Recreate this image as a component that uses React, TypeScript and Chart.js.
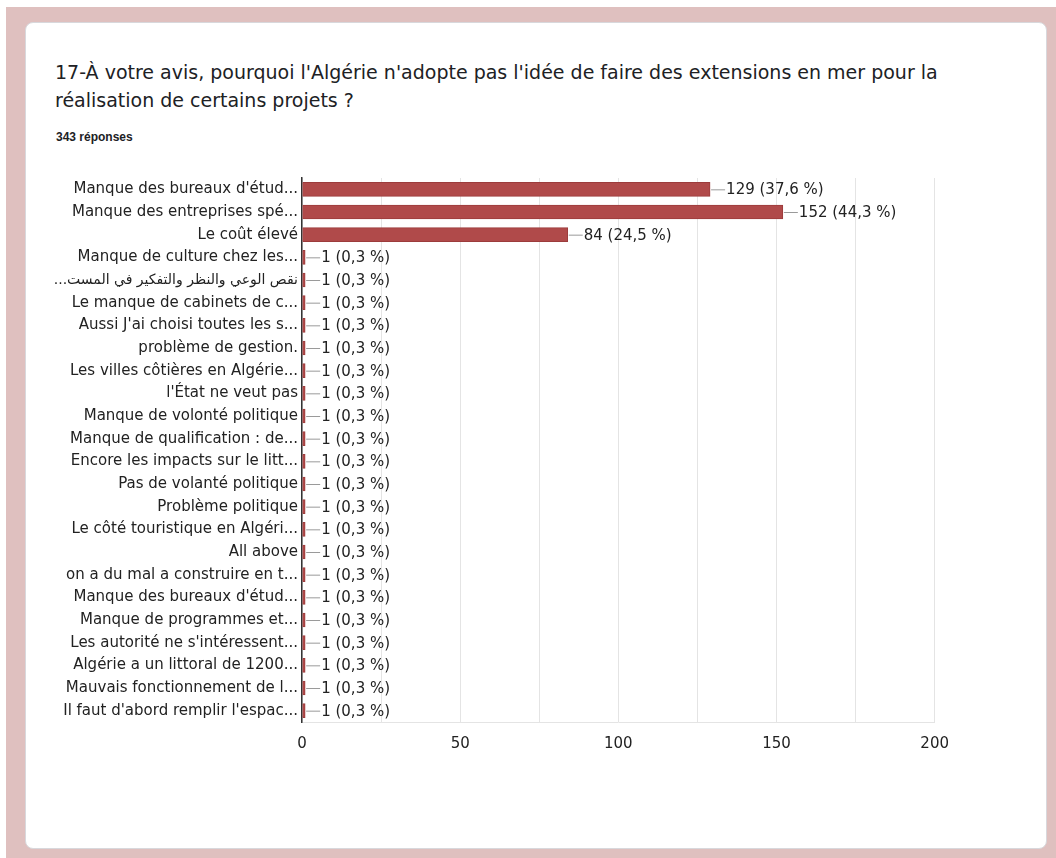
import React, { useEffect, useRef } from "react";
import { Chart, registerables } from "chart.js";

Chart.register(...registerables);

const TITLE_LINE_1 =
  "17-À votre avis, pourquoi l'Algérie n'adopte pas l'idée de faire des extensions en mer pour la";
const TITLE_LINE_2 = "réalisation de certains projets ?";
const RESPONSES = "343 réponses";
const TOTAL = 343;

const categories = [
  "Manque des bureaux d'étud...",
  "Manque des entreprises spé...",
  "Le coût élevé",
  "Manque de culture chez les...",
  "...نقص الوعي والنظر والتفكير في المست",
  "Le manque de cabinets de c...",
  "Aussi J'ai choisi toutes les s...",
  "problème de gestion.",
  "Les villes côtières en Algérie...",
  "l'État ne veut pas",
  "Manque de volonté politique",
  "Manque de qualification : de...",
  "Encore les impacts sur le litt...",
  "Pas de volanté politique",
  "Problème politique",
  "Le côté touristique en Algéri...",
  "All above",
  "on a du mal a construire en t...",
  "Manque des bureaux d'étud...",
  "Manque de programmes et...",
  "Les autorité ne s'intéressent...",
  "Algérie a un littoral de 1200...",
  "Mauvais fonctionnement de l...",
  "Il faut d'abord remplir l'espac...",
];

const counts = [129, 152, 84, 1, 1, 1, 1, 1, 1, 1, 1, 1, 1, 1, 1, 1, 1, 1, 1, 1, 1, 1, 1, 1];

const xTicks = [0, 50, 100, 150, 200];

const FONT = "'DejaVu Sans', sans-serif";
const BAR_COLOR = "#b04a4a";

const valueLabelPlugin = {
  id: "valueLabels",
  afterDatasetsDraw(chart: any) {
    const { ctx } = chart;
    const meta = chart.getDatasetMeta(0);
    ctx.save();
    meta.data.forEach((bar: any, i: number) => {
      const v = counts[i];
      const pct = ((v / TOTAL) * 100).toFixed(1).replace(".", ",");
      const x0 = bar.x + 1;
      const y = bar.y;
      ctx.strokeStyle = "#9a9a9a";
      ctx.lineWidth = 1;
      ctx.beginPath();
      ctx.moveTo(x0, y + 0.5);
      ctx.lineTo(x0 + 14, y + 0.5);
      ctx.stroke();
      ctx.fillStyle = "#222222";
      ctx.font = `15px ${FONT}`;
      ctx.textAlign = "left";
      ctx.textBaseline = "middle";
      ctx.fillText(`${v} (${pct} %)`, x0 + 15, y + 1);
    });
    ctx.restore();
  },
};

function BarChart() {
  const ref = useRef<HTMLCanvasElement | null>(null);
  useEffect(() => {
    if (!ref.current) return;
    const chart = new Chart(ref.current, {
      type: "bar",
      data: {
        labels: categories,
        datasets: [
          {
            data: counts,
            backgroundColor: BAR_COLOR,
            borderColor: "#9c3c3c",
            borderWidth: 1,
            barThickness: 14,
          },
        ],
      },
      options: {
        indexAxis: "y",
        animation: false,
        responsive: false,
        maintainAspectRatio: false,
        layout: { padding: { top: 17, right: 20, left: 0, bottom: 0 } },
        plugins: {
          legend: { display: false },
          tooltip: { enabled: false },
        },
        scales: {
          x: {
            min: 0,
            max: 200,
            afterFit: (s: any) => {
              s.height = 40;
            },
            ticks: {
              stepSize: 25,
              padding: 13,
              color: "#222222",
              font: { family: FONT, size: 15 },
              callback: (v: any) => (xTicks.includes(Number(v)) ? String(v) : ""),
            },
            grid: { color: "#e4e4e4", drawTicks: false },
            border: { display: true, color: "#e4e4e4" },
          },
          y: {
            afterFit: (s: any) => {
              s.width = 262;
            },
            ticks: {
              autoSkip: false,
              padding: 4,
              color: "#222222",
              font: (c: any) => ({ family: FONT, size: c.index === 4 ? 14 : 15 }),
            },
            grid: { display: false, drawTicks: false },
            border: { display: true, color: "#333333", width: 1.5 },
          },
        },
      },
      plugins: [valueLabelPlugin],
    });
    return () => chart.destroy();
  }, []);
  return (
    <canvas
      ref={ref}
      width={922}
      height={601}
      style={{ position: "absolute", left: 14, top: 138, width: 922, height: 601 }}
    />
  );
}

export default function App() {
  return (
    <div
      style={{
        position: "fixed",
        left: 6,
        top: 7,
        right: 0,
        bottom: 0,
        background: "#dfc0bf",
      }}
    >
      <div
        style={{
          position: "absolute",
          left: 19,
          top: 15,
          width: 1022,
          height: 827,
          background: "#ffffff",
          border: "1px solid #d8d8dc",
          borderRadius: 8,
          boxSizing: "border-box",
          overflow: "hidden",
        }}
      >
        <div
          style={{
            position: "absolute",
            left: 29,
            top: 35,
            fontFamily: "'DejaVu Sans', sans-serif",
            fontSize: 19,
            lineHeight: "28px",
            color: "#202124",
            whiteSpace: "nowrap",
          }}
        >
          {TITLE_LINE_1}
          <br />
          {TITLE_LINE_2}
        </div>
        <div
          style={{
            position: "absolute",
            left: 30,
            top: 107,
            fontFamily: "'Liberation Sans', Arial, sans-serif",
            fontSize: 12,
            fontWeight: "bold",
            color: "#202124",
            whiteSpace: "nowrap",
          }}
        >
          {RESPONSES}
        </div>
        <BarChart />
      </div>
    </div>
  );
}
